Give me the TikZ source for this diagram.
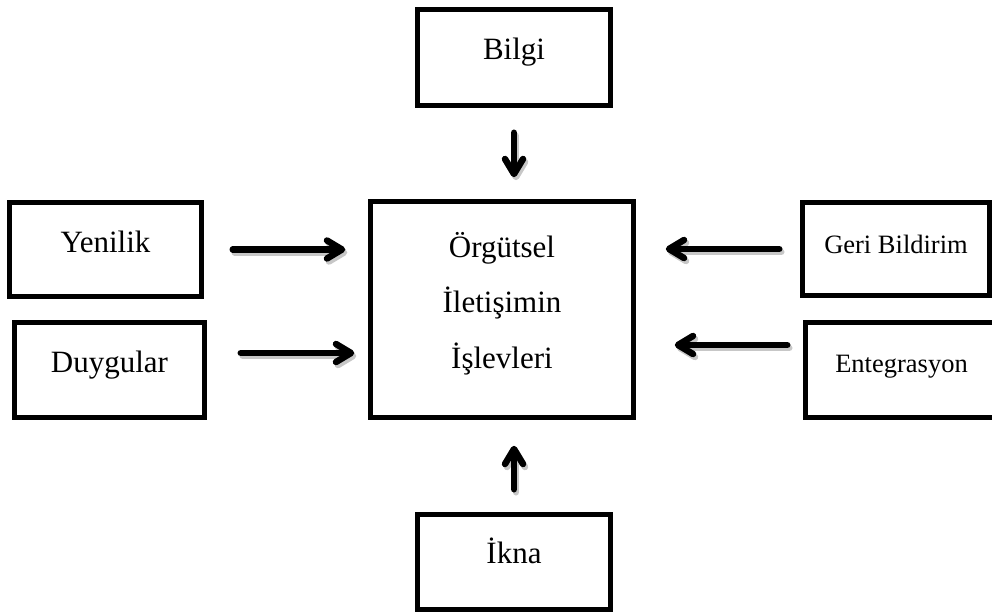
\documentclass[tikz,border=0pt]{standalone}
\usepackage{fontspec}
\setmainfont{Liberation Serif}
\usetikzlibrary{arrows.meta}

\tikzset{
  box/.style={draw=black, line width=5.5pt, inner sep=0pt, anchor=base,
              font=\fontsize{31}{36}\selectfont},
  smallbox/.style={box, font=\fontsize{26.5}{31}\selectfont},
  arr/.style={line width=6.5pt, line cap=round,
              -{Straight Barb[length=15pt,width=18pt,round]}},
  arrshadow/.style={arr, draw=black!22},
}

\begin{document}
\begin{tikzpicture}[x=1pt, y=-1pt]
  \useasboundingbox (0,0) rectangle (992,612);
  \clip (0,0) rectangle (992,612);

  % centre box with three lines of text
  \node[box, minimum width=263pt, text width=250pt, align=center,
        text height=55.5pt, text depth=160.5pt,
        font=\fontsize{31}{55.5}\selectfont] (center) at (502,257)
        {Örgütsel\\İletişimin\\İşlevleri};

  % surrounding boxes
  \node[box, minimum width=193pt, text height=50.5pt, text depth=45.5pt]
        (bilgi) at (514,60) {Bilgi};
  \node[box, minimum width=192pt, text height=49.5pt, text depth=44.5pt]
        (yenilik) at (105.5,252) {Yenilik};
  \node[box, minimum width=190pt, text height=49.5pt, text depth=45.5pt]
        (duygular) at (109.5,372) {Duygular};
  \node[smallbox, minimum width=187pt, text height=50.5pt, text depth=42.5pt]
        (geri) at (896,253) {Geri Bildirim};
  \node[smallbox, minimum width=192pt, text height=49.5pt, text depth=45.5pt]
        (entegrasyon) at (901.5,372) {Entegrasyon};
  \node[box, minimum width=193pt, text height=48.5pt, text depth=46.5pt]
        (ikna) at (514,563) {İkna};

  % arrows into the centre box: a soft grey copy first, then the black one
  \foreach \layer/\sty/\dx/\dy in {s/arrshadow/2pt/-3pt, f/arr/0pt/0pt} {
    \begin{scope}[transform canvas={xshift=\dx,yshift=\dy}]
      \draw[\sty, shorten <=24.5pt, shorten >=21.5pt]
            (bilgi.south) -- (bilgi.south |- center.north);
      \draw[\sty, shorten <=22.5pt, shorten >=25.5pt]
            (ikna.north) -- (ikna.north |- center.south);
      \draw[\sty, shorten <=28.5pt, shorten >=22.5pt]
            (yenilik.east) -- (yenilik.east -| center.west);
      \draw[\sty, shorten <=33.5pt, shorten >=13.5pt]
            ([yshift=17pt]duygular.east) -- ([yshift=17pt]duygular.east -| center.west);
      \draw[\sty, shorten <=20.5pt, shorten >=29.5pt]
            (geri.west) -- (geri.west -| center.east);
      \draw[\sty, shorten <=15.5pt, shorten >=38.5pt]
            ([yshift=25pt]entegrasyon.west) -- ([yshift=25pt]entegrasyon.west -| center.east);
    \end{scope}
  }
\end{tikzpicture}
\end{document}
